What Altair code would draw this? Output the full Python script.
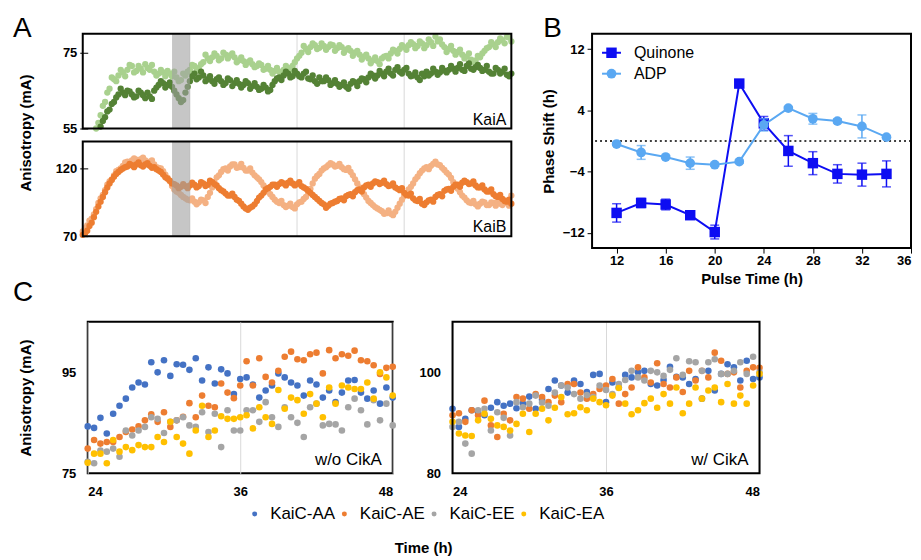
import altair as alt
import pandas as pd

FONT = "Liberation Sans"

# ---------------- Panel A data (readings on the hour and on the half hour) ----------------
kaia_light_start = 3
kaia_light = [55.0, 58.5, 62.0, 65.5, 68.0, 69.0, 69.8, 70.5, 71.5, 70.2,
              70.8, 72.0, 70.5, 70.0, 69.5, 69.8, 70.2, 68.8, 68.5, 67.8,
              69.0, 70.5, 71.5, 71.0, 72.5, 73.5, 73.8, 74.2, 73.5, 74.5,
              74.3, 73.8, 73.0, 72.8, 72.5, 72.0, 71.5, 71.8, 70.8, 70.5,
              70.2, 70.0, 70.5, 71.0, 71.5, 73.5, 75.0, 76.0, 76.5, 77.0,
              76.3, 76.8, 76.5, 77.0, 76.2, 76.5, 75.8, 75.5, 75.0, 74.5,
              74.0, 73.5, 73.0, 72.8, 73.5, 74.2, 74.8, 75.5, 76.0, 76.5,
              77.0, 77.3, 76.8, 77.5, 77.0, 77.8, 79.3, 78.5, 76.5, 76.0,
              75.5, 75.2, 74.5, 74.0, 73.2, 73.0, 73.8, 75.5, 76.5, 77.2,
              77.8, 78.3, 79.2, 78.0]
kaia_light_half = [56.5, 61.0, 64.5, 68.5, 67.5, 70.5, 68.8, 71.8, 69.8, 71.5,
                   69.8, 71.0, 71.8, 69.0, 70.5, 68.8, 69.5, 70.0, 67.5, 69.5,
                   70.0, 71.8, 70.2, 72.0, 74.5, 72.8, 74.8, 73.0, 75.0, 73.5,
                   74.8, 72.5, 73.8, 71.8, 73.0, 71.2, 72.2, 70.5, 71.5, 69.5,
                   71.0, 69.8, 71.5, 70.2, 72.5, 74.2, 76.8, 75.2, 77.5, 76.0,
                   77.5, 75.8, 77.2, 75.5, 77.0, 75.0, 76.2, 74.2, 75.5, 73.2,
                   74.5, 72.2, 73.8, 72.0, 74.0, 73.5, 75.8, 74.8, 77.0, 75.8,
                   77.8, 76.2, 78.0, 76.2, 78.5, 76.8, 78.0, 77.2, 75.2, 76.8,
                   74.5, 75.8, 73.5, 74.8, 72.5, 74.2, 74.8, 76.2, 77.8, 76.5,
                   78.8, 77.5, 79.0]
kaia_dark_start = 4
kaia_dark = [55.5, 58.0, 60.0, 62.0, 64.0, 64.5, 65.0, 64.0, 63.5, 64.5,
             63.0, 63.5, 65.0, 66.5, 67.0, 66.5, 66.0, 64.0, 62.0, 64.5,
             67.5, 69.5, 68.5, 69.0, 68.0, 67.5, 68.0, 67.5, 67.0, 67.8,
             67.0, 66.8, 66.5, 67.0, 66.2, 66.0, 65.5, 65.8, 65.2, 67.5,
             68.5, 69.0, 69.5, 68.8, 69.5, 68.5, 70.0, 68.0, 67.5, 68.5,
             67.5, 67.8, 67.0, 66.8, 66.5, 66.0, 66.8, 67.2, 67.5, 68.0,
             68.5, 69.0, 69.0, 69.5, 70.0, 69.5, 70.5, 70.0, 70.5, 69.5,
             69.0, 68.5, 69.5, 70.0, 69.5, 70.0, 69.8, 70.3, 70.5, 70.8,
             71.0, 70.5, 71.5, 70.8, 71.2, 71.0, 70.5, 70.0, 69.5, 70.5,
             70.0, 69.2, 69.5]
kaia_dark_half = [57.0, 59.5, 61.5, 63.2, 65.5, 63.8, 64.8, 63.2, 65.0, 63.8,
                  64.5, 62.8, 65.8, 67.5, 65.8, 67.2, 65.0, 63.0, 62.5, 66.0,
                  68.8, 68.0, 70.0, 67.5, 68.8, 66.8, 68.5, 66.5, 68.2, 66.2,
                  67.8, 65.8, 67.5, 65.5, 67.0, 65.2, 66.5, 64.8, 66.5, 68.2,
                  67.8, 70.0, 68.5, 70.2, 68.8, 69.5, 68.2, 69.0, 66.8, 67.5,
                  68.5, 66.5, 67.8, 66.0, 67.2, 65.5, 67.5, 66.2, 68.2, 67.2,
                  69.5, 68.2, 70.2, 68.8, 70.8, 69.0, 71.2, 69.5, 71.0, 68.8,
                  69.8, 67.8, 68.8, 69.0, 70.8, 69.2, 71.0, 69.8, 71.5, 70.0,
                  72.0, 70.2, 72.2, 70.5, 71.8, 70.2, 71.5, 69.5, 71.0, 69.5,
                  70.8, 68.8]
kaib_start = 0
kaib_light = [73.5, 78.0, 83.0, 90.0, 98.0, 104.0, 110.5, 115.0, 119.0, 122.0,
              125.0, 126.0, 126.5, 127.0, 126.0, 125.0, 123.0, 120.5, 118.0, 113.0,
              107.0, 103.0, 100.5, 98.0, 96.5, 95.5, 95.0, 96.5, 99.0, 106.0,
              113.5, 117.5, 120.0, 121.5, 123.0, 121.0, 120.5, 118.5, 117.0, 113.5,
              110.0, 105.5, 101.0, 97.0, 94.5, 93.0, 92.5, 91.5, 93.5, 95.5,
              99.0, 105.0, 112.5, 116.0, 120.0, 122.5, 123.0, 122.0, 121.0, 119.0,
              117.5, 112.0, 106.0, 101.0, 96.0, 93.0, 90.5, 88.5, 87.0, 86.5,
              88.0, 94.0, 99.5, 104.5, 109.0, 114.0, 118.5, 121.0, 122.0, 125.0,
              122.5, 119.0, 115.5, 110.0, 105.0, 100.0, 96.5, 94.5, 93.5, 94.0,
              95.0, 93.0, 94.5, 95.5, 93.0, 94.5, 100.0]
kaib_light_half = [76.0, 81.5, 86.0, 94.5, 100.5, 108.0, 112.0, 118.0, 120.0, 124.5,
                   124.0, 127.5, 125.0, 128.0, 124.5, 126.0, 121.0, 120.0, 115.5, 110.5,
                   104.5, 102.0, 99.0, 97.0, 98.0, 93.5, 97.0, 94.5, 102.0, 110.0,
                   115.0, 119.5, 118.5, 123.0, 120.5, 123.5, 118.5, 120.0, 115.0, 112.0,
                   107.5, 103.0, 99.0, 95.5, 96.0, 91.5, 94.0, 90.5, 95.0, 97.5,
                   102.0, 109.0, 114.5, 118.5, 121.0, 124.0, 121.5, 123.5, 119.5, 120.5,
                   115.0, 109.0, 103.5, 98.5, 94.5, 91.5, 89.5, 86.5, 89.0, 85.5,
                   91.0, 97.0, 101.0, 106.5, 112.0, 116.5, 120.0, 119.5, 123.5, 123.0,
                   120.5, 117.0, 113.0, 107.5, 102.5, 98.5, 95.0, 96.0, 92.0, 95.5,
                   93.0, 95.0, 92.5, 94.0, 96.5, 92.5]
kaib_dark = [71.0, 74.0, 80.0, 88.0, 95.5, 102.5, 109.0, 114.0, 117.5, 120.0,
             121.5, 122.5, 123.0, 122.5, 123.0, 122.0, 121.0, 118.5, 115.5, 112.5,
             109.0, 107.5, 106.5, 107.0, 107.5, 108.0, 107.0, 109.0, 108.0, 110.0,
             107.5, 104.0, 101.5, 100.0, 99.0, 96.0, 92.0, 89.5, 92.0, 96.0,
             100.0, 104.5, 106.5, 108.0, 108.5, 109.0, 109.5, 109.0, 108.5, 107.0,
             105.0, 102.0, 99.0, 96.0, 93.5, 92.5, 94.5, 96.0, 98.0, 99.5,
             101.0, 102.5, 104.5, 106.0, 108.0, 109.0, 110.0, 109.5, 108.5, 107.5,
             106.0, 104.0, 102.0, 100.0, 98.0, 96.0, 94.0, 95.0, 97.0, 99.0,
             101.0, 103.5, 105.0, 106.5, 108.0, 109.5, 110.0, 109.0, 107.5, 106.0,
             104.5, 103.0, 101.0, 99.0, 97.5, 95.5, 94.0]
kaib_dark_half = [72.0, 77.5, 84.0, 92.0, 99.0, 106.0, 111.5, 116.0, 119.0, 121.0,
                  123.5, 121.0, 124.5, 121.5, 124.0, 120.5, 119.5, 117.5, 113.5, 111.0,
                  108.5, 105.5, 108.5, 105.5, 109.5, 106.0, 110.0, 107.0, 111.0, 108.5,
                  105.5, 103.0, 100.0, 101.5, 97.0, 94.0, 90.5, 91.0, 93.5, 98.5,
                  102.0, 105.5, 108.0, 106.5, 110.0, 107.5, 111.0, 107.5, 110.0, 106.0,
                  103.5, 100.5, 97.5, 94.5, 91.0, 94.0, 95.5, 97.5, 96.5, 100.5,
                  99.5, 104.0, 103.0, 107.5, 106.5, 110.5, 108.5, 111.0, 107.0, 109.0,
                  105.0, 105.5, 100.5, 101.5, 96.5, 97.5, 93.0, 96.5, 95.5, 100.5,
                  99.5, 104.5, 103.5, 108.0, 106.5, 111.0, 108.5, 110.5, 106.0, 107.5,
                  103.0, 104.5, 99.5, 100.5, 96.0, 97.0]
pulse_window = [20, 24]
a_grid_times = [24, 48, 72]

# ---------------- Panel B data ----------------
pulse_times = [12, 14, 16, 18, 20, 22, 24, 26, 28, 30, 32, 34]
quinone = [-9.4, -8.1, -8.3, -9.7, -11.9, 7.5, 2.3, -1.3, -2.9, -4.3, -4.4, -4.3]
quinone_err = [1.2, 0.6, 0.7, 0.3, 0.9, 0.3, 0.9, 2.0, 1.5, 1.2, 1.5, 1.7]
adp = [-0.4, -1.5, -2.1, -2.9, -3.1, -2.7, 2.1, 4.3, 2.9, 2.6, 1.9, 0.5]
adp_err = [0.2, 0.9, 0.2, 0.8, 0.2, 0.2, 0.8, 0.2, 0.7, 0.3, 1.5, 0.2]

# ---------------- Panel C data (half-hour readings, 24-48 h) ----------------
c_start, c_step = 24, 0.5
series_names = ["KaiC-AA", "KaiC-AE", "KaiC-EE", "KaiC-EA"]
series_colors = ["#4472c4", "#ed7d31", "#a5a5a5", "#ffc000"]
woc_AA = [84.3, 84.0, 86.0, 82.9, 86.8, 88.4, 89.8, 92.0, 93.0, 92.6,
          97.0, 95.0, 97.4, 94.3, 96.6, 96.5, 95.5, 97.8, 93.4, 96.0,
          92.8, 95.6, 94.8, 90.7, 93.7, 94.0, 92.6, 90.0, 91.4, 92.4,
          94.8, 94.0, 93.0, 92.4, 90.4, 93.4, 92.6, 90.0, 91.4, 89.1,
          91.0, 93.4, 93.5, 91.0, 89.8, 91.4, 88.8, 92.0, 90.0]
woc_AE = [79.9, 81.6, 80.9, 81.2, 81.2, 82.2, 83.2, 83.7, 84.3, 85.5,
          86.7, 85.2, 87.1, 84.2, 85.5, 86.2, 88.9, 86.1, 90.4, 88.4,
          88.1, 92.8, 91.0, 89.9, 92.4, 97.2, 92.4, 97.8, 94.1, 93.0,
          95.3, 98.1, 99.1, 97.6, 97.4, 98.6, 98.9, 94.8, 99.4, 97.8,
          98.6, 98.3, 99.3, 97.4, 97.2, 96.4, 94.7, 95.9, 96.1]
woc_EE = [77.3, 77.0, 79.5, 79.3, 79.9, 78.3, 83.5, 82.5, 83.5, 84.2,
          86.1, 85.8, 83.0, 85.2, 85.5, 86.1, 84.5, 84.2, 87.1, 83.2,
          86.8, 80.2, 87.5, 83.5, 83.5, 87.5, 87.5, 85.2, 89.1, 86.1,
          84.2, 88.1, 86.1, 85.0, 82.2, 88.1, 88.8, 84.5, 84.8, 84.7,
          83.5, 88.1, 89.8, 87.5, 84.7, 89.5, 85.5, 88.8, 84.5]
woc_EA = [77.1, 78.9, 78.9, 77.0, 81.6, 79.3, 80.2, 79.6, 80.6, 80.2,
          80.2, 82.2, 81.2, 85.2, 82.2, 80.9, 78.9, 83.5, 88.4, 82.2,
          83.5, 86.3, 85.8, 85.8, 86.1, 86.5, 83.9, 88.1, 86.1, 84.8,
          91.5, 87.8, 90.0, 89.5, 86.8, 90.7, 88.8, 86.1, 92.0, 88.8,
          92.4, 92.0, 91.7, 91.7, 93.0, 89.8, 95.0, 94.0, 90.4]
wc_AA = [92.8, 89.2, 90.8, 92.5, 92.1, 91.5, 93.0, 94.1, 93.4, 93.8,
         92.9, 93.8, 95.2, 92.8, 94.6, 96.7, 98.4, 97.4, 96.0, 98.4,
         97.7, 96.1, 99.5, 99.7, 94.1, 98.0, 97.0, 99.5, 99.0, 100.0,
         100.3, 97.7, 97.4, 98.5, 101.1, 99.1, 99.0, 97.7, 98.7, 94.8,
         100.3, 96.4, 99.7, 101.6, 101.0, 98.4, 102.3, 98.7, 99.0]
wc_AE = [91.5, 91.9, 90.2, 92.5, 91.5, 94.4, 89.5, 87.2, 91.8, 90.5,
         95.1, 94.8, 92.8, 95.7, 95.1, 94.1, 95.4, 94.1, 97.7, 97.7,
         96.0, 94.8, 95.7, 96.7, 97.4, 98.7, 93.8, 95.7, 97.0, 101.0,
         99.0, 98.0, 101.8, 97.7, 97.0, 99.0, 96.1, 100.3, 98.4, 100.3,
         99.0, 103.9, 102.3, 99.7, 100.0, 97.0, 100.3, 101.0, 100.9]
wc_EE = [89.2, 90.2, 85.9, 83.9, 92.5, 92.8, 88.5, 92.1, 91.0, 87.5,
         94.1, 93.1, 93.8, 95.4, 94.0, 93.4, 96.0, 97.4, 97.0, 95.7,
         94.8, 95.5, 95.1, 97.4, 96.5, 95.7, 97.7, 98.5, 100.3, 99.0,
         98.4, 100.3, 100.0, 99.3, 100.5, 102.8, 99.5, 102.2, 102.0, 100.3,
         102.0, 102.6, 99.7, 99.7, 100.3, 102.0, 99.7, 103.1, 100.0]
wc_EA = [90.2, 87.9, 87.5, 87.4, 90.5, 91.8, 90.8, 89.5, 89.2, 88.5,
         89.8, 91.8, 88.2, 91.8, 92.8, 90.5, 93.0, 95.1, 91.7, 91.9,
         93.1, 92.5, 94.8, 94.1, 93.5, 95.4, 96.9, 93.8, 91.7, 92.5,
         93.9, 94.8, 93.0, 95.7, 93.8, 97.0, 91.9, 93.8, 97.0, 94.8,
         96.4, 97.0, 94.1, 97.7, 93.8, 95.4, 93.8, 97.4, 99.7]


def series_df(values, start, step=1.0):
    return pd.DataFrame({"t": [start + step * i for i in range(len(values))], "v": values})


def two_df(on_hour, start, on_half):
    return pd.concat([series_df(on_hour, start), series_df(on_half, start + 0.5)],
                     ignore_index=True)


def c_df(lists):
    frames = []
    for k, (name, vals) in enumerate(zip(series_names, lists)):
        d = series_df(vals, c_start, c_step)
        d["series"] = name
        d["ord"] = k
        frames.append(d)
    return pd.concat(frames, ignore_index=True)


def one(label="x"):
    return pd.DataFrame({"s": [label]})


def label_text(s, x, y, size, align="left", baseline="alphabetic", weight="normal"):
    return alt.Chart(one(s)).mark_text(
        align=align, baseline=baseline, fontSize=size, font=FONT, color="black",
        fontWeight=weight).encode(text="s:N", x=alt.value(x), y=alt.value(y))


FRAME_W = 2


def frame_rect(x0, x1, y0, y1):
    return alt.Chart(one()).mark_rect(fillOpacity=0, stroke="black", strokeWidth=FRAME_W).encode(
        x=alt.value(x0), x2=alt.value(x1), y=alt.value(y0), y2=alt.value(y1))


# ---------------- Panel A (two stacked frames in one view) ----------------
AX0, AX1 = -5, 425
A_TOP = (0, 95)
B_TOP = (108, 203)
A_CELL_W, A_CELL_H = 446, 203

xsA = alt.Scale(domain=[0, 96], range=[AX0, AX1], nice=False, zero=False)
x_axis_A = alt.Axis(values=[0, 24, 48, 72, 96], grid=False, ticks=False, domain=False,
                    title=None, labelPadding=7)


def grid(y0, y1):
    return alt.Chart(pd.DataFrame({"g": a_grid_times})).mark_rule(color="#d9d9d9", strokeWidth=1).encode(
        x=alt.X("g:Q", scale=xsA, axis=None), y=alt.value(y0), y2=alt.value(y1))


def band(y0, y1):
    return alt.Chart(pd.DataFrame({"a": [pulse_window[0]], "b": [pulse_window[1]]})).mark_rect(
        color="#a0a0a0", opacity=0.6).encode(
        x=alt.X("a:Q", scale=xsA, axis=None), x2="b:Q", y=alt.value(y0), y2=alt.value(y1))


def pts(df, col, ydom, yrange, axis, xaxis=None):
    return alt.Chart(df).mark_circle(size=40, opacity=1, color=col, clip=False).encode(
        x=alt.X("t:Q", scale=xsA, axis=xaxis),
        y=alt.Y("v:Q", scale=alt.Scale(domain=ydom, range=yrange, nice=False, zero=False), axis=axis))


yaxA = alt.Axis(values=[55, 75], orient="left", grid=False, ticks=True, tickSize=8,
                tickColor="black", domain=False, labelPadding=3, title="Anisotropy (mA)",
                titleX=-54, titleY=99, titleAngle=-90)
yaxB = alt.Axis(values=[70, 120], orient="left", grid=False, ticks=True, tickSize=8,
                tickColor="black", domain=False, labelPadding=3, title=None)

panelA = alt.layer(
    grid(*A_TOP), grid(*B_TOP),
    pts(two_df(kaia_light, kaia_light_start, kaia_light_half), "#a9d18e", [55, 80],
        [A_TOP[1], A_TOP[0]], yaxA, x_axis_A),
    pts(two_df(kaia_dark, kaia_dark_start, kaia_dark_half), "#548235", [55, 80],
        [A_TOP[1], A_TOP[0]], None),
    pts(two_df(kaib_light, kaib_start, kaib_light_half), "#f4b183", [70, 140],
        [B_TOP[1], B_TOP[0]], yaxB),
    pts(two_df(kaib_dark, kaib_start, kaib_dark_half), "#ed7d31", [70, 140],
        [B_TOP[1], B_TOP[0]], None),
    band(*A_TOP), band(*B_TOP),
    frame_rect(AX0, AX1, *A_TOP), frame_rect(AX0, AX1, *B_TOP),
    label_text("KaiA", AX1 - 5, A_TOP[1] - 4, 16, align="right"),
    label_text("KaiB", AX1 - 5, B_TOP[1] - 4, 16, align="right"),
    label_text("A", AX0 - 70, 3, 28),
).resolve_scale(y="independent").properties(
    width=A_CELL_W, height=A_CELL_H, view=alt.ViewConfig(stroke=None))

# ---------------- Panel B ----------------
B_W, B_H = 320, 215
Q_COL, ADP_COL = "#0d0df2", "#5aa8f2"
qdf = pd.DataFrame({"t": pulse_times, "v": quinone,
                    "lo": [v - e for v, e in zip(quinone, quinone_err)],
                    "hi": [v + e for v, e in zip(quinone, quinone_err)]})
adf = pd.DataFrame({"t": pulse_times, "v": adp,
                    "lo": [v - e for v, e in zip(adp, adp_err)],
                    "hi": [v + e for v, e in zip(adp, adp_err)]})
bx = alt.X("t:Q", scale=alt.Scale(domain=[10, 36], nice=False, zero=False),
           axis=alt.Axis(values=list(range(12, 37, 4)), title="Pulse Time (h)", tickSize=5,
                         tickColor="black", domain=False, grid=False, labelPadding=1, titlePadding=5))
by = alt.Y("v:Q", scale=alt.Scale(domain=[-14, 14], nice=False, zero=False),
           axis=alt.Axis(values=list(range(-12, 13, 4)), title="Phase Shift (h)", tickSize=5,
                         tickColor="black", domain=False, grid=False, labelPadding=3, titlePadding=6))
zero = alt.Chart(pd.DataFrame({"z": [0]})).mark_rule(
    strokeDash=[2, 3], color="black", strokeWidth=1.5).encode(y=alt.Y("z:Q"))


def b_series(df, col, shape, size):
    base = alt.Chart(df)
    line = base.mark_line(color=col, strokeWidth=2).encode(x=bx, y=by)
    err = base.mark_rule(color=col, strokeWidth=1.5).encode(x="t:Q", y="lo:Q", y2="hi:Q")
    cap1 = base.mark_tick(color=col, orient="horizontal", size=9, thickness=1.5).encode(x="t:Q", y="lo:Q")
    cap2 = base.mark_tick(color=col, orient="horizontal", size=9, thickness=1.5).encode(x="t:Q", y="hi:Q")
    p = base.mark_point(shape=shape, filled=True, size=size, opacity=1, color=col).encode(x="t:Q", y="v:Q")
    return [line, err, cap1, cap2, p]


def b_legend_entry(name, col, shape, size, ypix):
    seg = alt.Chart(one(name)).mark_rule(color=col, strokeWidth=2).encode(
        x=alt.value(10), x2=alt.value(29), y=alt.value(ypix))
    sym = alt.Chart(one(name)).mark_point(
        shape=shape, filled=True, size=size, opacity=1, color=col).encode(
        x=alt.value(19.5), y=alt.value(ypix))
    lab = label_text(name, 42, ypix, 16, baseline="middle")
    return [seg, sym, lab]


panelB = alt.layer(
    zero,
    *b_series(qdf, Q_COL, "square", 110),
    *b_series(adf, ADP_COL, "circle", 95),
    *b_legend_entry("Quinone", Q_COL, "square", 110, 19),
    *b_legend_entry("ADP", ADP_COL, "circle", 95, 40),
    label_text("B", -49, 3, 28),
).properties(width=B_W, height=B_H)

# ---------------- Panel C ----------------
C_H = 152
cscale = alt.Scale(domain=series_names, range=series_colors)


def c_panel(lists, ydom, yvals, label, x0, x1, cell_w, show_legend, ytitle=None, extras=(),
            own_frame=False):
    yax_kwargs = dict(values=yvals, grid=False, ticks=False, domain=False, labelPadding=12,
                      title=ytitle, offset=-x0)
    if ytitle:
        yax_kwargs.update(titleX=-54)
    legend = None
    if show_legend:
        legend = alt.Legend(orient="none", legendX=159, legendY=473, direction="horizontal",
                            title=None, symbolType="circle", symbolSize=25, labelFontSize=17,
                            labelFont=FONT, labelColor="black", columnPadding=0, labelOffset=7,
                            symbolOpacity=1, labelLimit=200, padding=0)
    p = alt.Chart(c_df(lists)).mark_circle(size=44, opacity=1, clip=False).encode(
        x=alt.X("t:Q", scale=alt.Scale(domain=[24, 48], range=[x0, x1], nice=False, zero=False),
                axis=alt.Axis(values=[24, 36, 48], grid=True, gridColor="#d9d9d9", gridWidth=1,
                              ticks=False, domain=False, title=None, labelPadding=12)),
        y=alt.Y("v:Q", scale=alt.Scale(domain=ydom, nice=False, zero=False),
                axis=alt.Axis(**yax_kwargs)),
        color=alt.Color("series:N", scale=cscale, legend=legend),
        order=alt.Order("ord:Q"),
    )
    layers = [p, label_text(label, x1 - 11, C_H - 8, 17, align="right")]
    layers.extend(extras)
    props = dict(width=cell_w, height=C_H)
    if own_frame:
        layers.append(frame_rect(x0, x1, 0, C_H))
        props["view"] = alt.ViewConfig(stroke=None)
    return alt.layer(*layers).properties(**props)


c1 = c_panel([woc_AA, woc_AE, woc_EE, woc_EA], [75, 105], [75, 95], "w/o CikA", 0, 306, 306, True,
             ytitle="Anisotropy (mA)",
             extras=[label_text("C", -75, -21, 28),
                     label_text("Time (h)", 337, 227, 15, align="center", baseline="middle",
                                weight="bold")])
# the second C panel sits in the same column as panel B, so its frame is shifted left
c2 = c_panel([wc_AA, wc_AE, wc_EE, wc_EA], [80, 110], [80, 100], "w/ CikA", -140, 168, 168, False,
             own_frame=True)

chart = alt.concat(
    panelA, panelB, c1, c2, columns=2, bounds="flush", align="each",
    spacing={"row": 74, "column": 60},
).properties(
    padding={"left": 4, "top": 5, "right": 0, "bottom": 0}, background="white"
).configure_view(stroke="black", strokeWidth=FRAME_W).configure_axis(
    labelFont=FONT, titleFont=FONT, labelFontWeight="bold", titleFontWeight="bold",
    labelColor="black", titleColor="black", labelFontSize=13, titleFontSize=15
).configure_legend(labelFont=FONT, labelFontSize=17, labelColor="black")

chart.save("out.html", embed_options={"renderer": "svg", "actions": False})
